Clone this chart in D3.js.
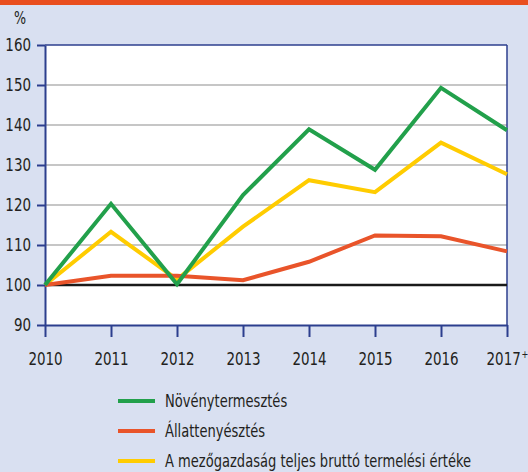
<!DOCTYPE html>
<html>
<head>
<meta charset="utf-8">
<script src="https://cdn.jsdelivr.net/npm/d3@7"></script>
<style>
  html, body { margin: 0; padding: 0; background: #d9e0f1; }
  svg { display: block; }
  text { font-family: "DejaVu Sans Condensed", "Liberation Sans", sans-serif; fill: #231f20; }
</style>
</head>
<body>
<div id="chart"></div>
<script>
// Years on the horizontal axis (last one is a preliminary estimate)
const years = ["2010", "2011", "2012", "2013", "2014", "2015", "2016", "2017"];
const yearLabels = ["2010", "2011", "2012", "2013", "2014", "2015", "2016", "2017"];
const yTicks = [90, 100, 110, 120, 130, 140, 150, 160];

// Index values, 2010 = 100
const novenytermesztes = [100, 120.3, 100.2, 122.5, 138.9, 128.8, 149.3, 138.7];
const allattenyesztes  = [100, 102.3, 102.3, 101.2, 105.8, 112.4, 112.2, 108.4];
const teljesTermeles   = [100, 113.3, 101.4, 114.6, 126.2, 123.2, 135.6, 127.7];
const baseline         = [100, 100, 100, 100, 100, 100, 100, 100];

const seriesNames  = ["Növénytermesztés", "Állattenyésztés", "A mezőgazdaság teljes bruttó termelési értéke"];
const seriesColors = ["#22a04b", "#e9542a", "#ffcc00"];

const W = 528, H = 472;
const margin = { left: 45, right: 21, top: 45, bottom: 147 };
const axisColor = "#2c3f8e";
const squeeze = 0.83;   // horizontal compression for a condensed look

const svg = d3.select("#chart").append("svg").attr("width", W).attr("height", H);

svg.append("rect").attr("width", W).attr("height", H).attr("fill", "#d9e0f1");
svg.append("rect").attr("width", W).attr("height", 5).attr("fill", "#e94e1f");

const x = d3.scalePoint().domain(years).range([margin.left, W - margin.right]);
const y = d3.scaleLinear().domain([90, 160]).range([H - margin.bottom, margin.top]);

// plot background
svg.append("rect")
  .attr("x", margin.left).attr("y", margin.top)
  .attr("width", W - margin.right - margin.left)
  .attr("height", H - margin.bottom - margin.top)
  .attr("fill", "#ffffff");

// horizontal grid lines
svg.append("g").selectAll("line")
  .data(yTicks.filter(t => t > 90 && t < 160))
  .join("line")
  .attr("x1", margin.left).attr("x2", W - margin.right)
  .attr("y1", d => y(d)).attr("y2", d => y(d))
  .attr("stroke", "#b3b3b3").attr("stroke-width", 1.5);

// frame top and right
svg.append("line")
  .attr("x1", margin.left).attr("x2", W - margin.right)
  .attr("y1", y(160)).attr("y2", y(160))
  .attr("stroke", axisColor).attr("stroke-width", 1.5);
svg.append("line")
  .attr("x1", W - margin.right).attr("x2", W - margin.right)
  .attr("y1", y(160)).attr("y2", y(90))
  .attr("stroke", axisColor).attr("stroke-width", 1.5);

// y axis
const yAxis = svg.append("g")
  .attr("transform", `translate(${margin.left},0)`)
  .call(d3.axisLeft(y).tickValues(yTicks).tickSize(8).tickSizeOuter(0).tickPadding(6));
yAxis.select(".domain").attr("stroke", axisColor).attr("stroke-width", 2);
yAxis.selectAll(".tick line").attr("stroke", axisColor).attr("stroke-width", 2);
yAxis.selectAll(".tick text")
  .attr("font-size", 18).attr("fill", "#231f20")
  .attr("font-family", "DejaVu Sans Condensed, sans-serif")
  .attr("x", -14 / squeeze)
  .attr("transform", `scale(${squeeze},1)`);

// x axis
const xAxis = svg.append("g")
  .attr("transform", `translate(0,${H - margin.bottom})`)
  .call(d3.axisBottom(x).tickValues(years).tickFormat((d, i) => yearLabels[i]).tickSize(12).tickSizeOuter(0).tickPadding(15));
xAxis.select(".domain").attr("stroke", axisColor).attr("stroke-width", 2);
xAxis.selectAll(".tick line").attr("stroke", axisColor).attr("stroke-width", 2);
xAxis.selectAll(".tick text")
  .attr("font-size", 18).attr("fill", "#231f20")
  .attr("font-family", "DejaVu Sans Condensed, sans-serif")
  .attr("transform", `scale(${squeeze},1)`);
// preliminary marker on the last year
xAxis.selectAll(".tick text").filter((d, i) => i === years.length - 1)
  .append("tspan").attr("dy", -7).attr("dx", 1).attr("font-size", 11).text("+");

// "%" unit label
svg.append("text").attr("transform", `translate(14,24) scale(${squeeze},1)`)
  .attr("font-size", 17).text("%");

// lines
const line = d3.line().x((d, i) => x(years[i])).y(d => y(d));
svg.append("path").datum(baseline).attr("d", line)
  .attr("fill", "none").attr("stroke", "#1a1a1a").attr("stroke-width", 2.5);

const series = [novenytermesztes, allattenyesztes, teljesTermeles];
[2, 1, 0].forEach(k => {
  svg.append("path").datum(series[k]).attr("d", line)
    .attr("fill", "none").attr("stroke", seriesColors[k])
    .attr("stroke-width", 4).attr("stroke-linejoin", "miter");
});

// legend
const legend = svg.append("g");
seriesNames.forEach((name, i) => {
  const ly = 401 + i * 30;
  legend.append("line")
    .attr("x1", 118).attr("x2", 155).attr("y1", ly).attr("y2", ly)
    .attr("stroke", seriesColors[i]).attr("stroke-width", 4);
  legend.append("text")
    .attr("transform", `translate(165,${ly + 6}) scale(${squeeze},1)`)
    .attr("font-size", 17.5).text(name);
});
</script>
</body>
</html>
